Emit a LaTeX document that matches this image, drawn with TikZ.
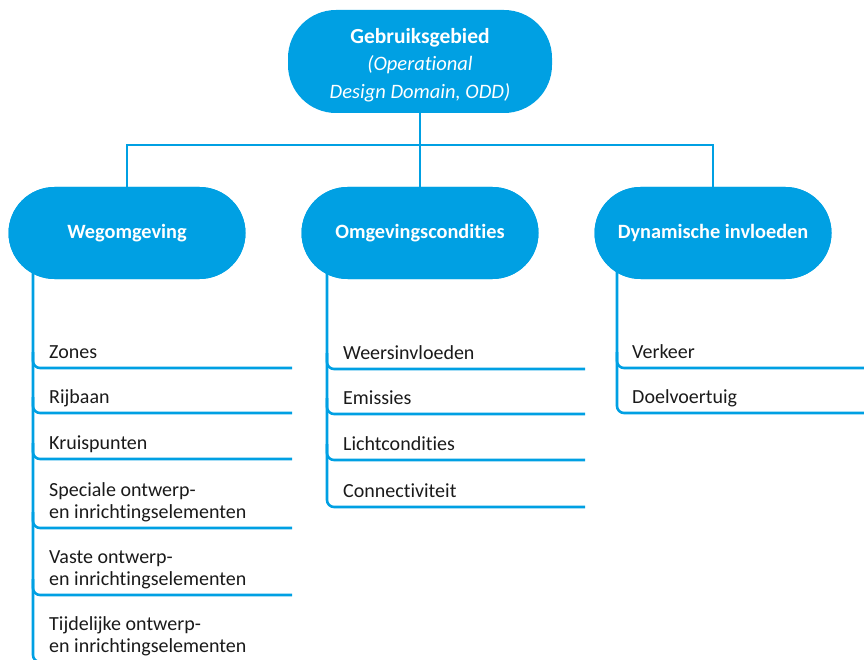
\documentclass[tikz,border=0pt]{standalone}
\usepackage{fontspec}
\setmainfont[Ligatures=NoCommon]{Carlito}
\definecolor{odd}{RGB}{0,160,227}
\definecolor{ink}{RGB}{26,26,26}
\tikzset{
  x=1pt, y=-1pt,
  conn/.style={draw=odd, line width=2.6pt},
  catbox/.style={fill=odd, rounded corners=46pt, minimum width=237pt, minimum height=92pt,
    inner sep=0pt, text=white, font=\fontsize{20.3}{22}\selectfont\bfseries},
  topbox/.style={fill=odd, rounded corners=48pt, minimum width=264pt, minimum height=103pt,
    inner sep=0pt},
  toptext/.style={inner sep=0pt, text=white, align=center, font=\fontsize{20.5}{27.5}\selectfont},
  item/.style={anchor=south west, inner xsep=0pt, inner ysep=9pt, text depth=0pt,
    align=left, text=ink, font=\fontsize{20}{22}\selectfont},
}
\begin{document}
\begin{tikzpicture}
\path[use as bounding box, clip] (0,0) rectangle (864,660);

% main nodes
\node[topbox] (top) at (420,61.5) {};
\node[toptext] (toplabel) at (420,65) {{\fontsize{21.5}{27.5}\selectfont\textbf{Gebruiksgebied}}\\\textit{(Operational}\\\textit{Design Domain, ODD)}};
\node[catbox] (weg) at (127,233) {Wegomgeving};
\node[catbox] (omg) at (420,233) {Omgevingscondities};
\node[catbox] (dyn) at (713,233) {Dynamische invloeden};

% tree connectors
\coordinate (bus) at (420,145);
\draw[conn] (top.south) -- (bus);
\draw[conn] (weg.north) |- (bus) -| (dyn.north);
\draw[conn] (bus) -- (omg.north);

% column guide coordinates
\coordinate (wx) at (33,0);   \coordinate (wend) at (292,0);
\coordinate (ox) at (327,0);  \coordinate (oend) at (585,0);
\coordinate (dx) at (617,0);  \coordinate (dend) at (868,0);

% Wegomgeving items
\node[item] (w1) at (49,368) {Zones};
\node[item] (w2) at (49,413) {Rijbaan};
\node[item] (w3) at (49,459) {Kruispunten};
\node[item] (w4) at (49,528) {Speciale ontwerp-\\en inrichtingselementen};
\node[item] (w5) at (49,595) {Vaste ontwerp-\\en inrichtingselementen};
\node[item] (w6) at (49,662) {Tijdelijke ontwerp-\\en inrichtingselementen};

\draw[conn, rounded corners=7pt] ([yshift=12pt]weg.south -| wx) |- (w6.south -| wend);
\foreach \n in {w1,w2,w3,w4,w5}
  \draw[conn, rounded corners=7pt] ([yshift=16pt]\n.south -| wx) |- (\n.south -| wend);

% Omgevingscondities items
\node[item] (o1) at (343,369) {Weersinvloeden};
\node[item] (o2) at (343,414) {Emissies};
\node[item] (o3) at (343,460) {Lichtcondities};
\node[item] (o4) at (343,507) {Connectiviteit};

\draw[conn, rounded corners=7pt] ([yshift=12pt]omg.south -| ox) |- (o4.south -| oend);
\foreach \n in {o1,o2,o3}
  \draw[conn, rounded corners=7pt] ([yshift=16pt]\n.south -| ox) |- (\n.south -| oend);

% Dynamische invloeden items
\node[item] (d1) at (632,368) {Verkeer};
\node[item] (d2) at (632,413) {Doelvoertuig};

\draw[conn, rounded corners=7pt] ([yshift=12pt]dyn.south -| dx) |- (d2.south -| dend);
\draw[conn, rounded corners=7pt] ([yshift=16pt]d1.south -| dx) |- (d1.south -| dend);

% redraw boxes over line starts
\node[catbox] at (weg) {Wegomgeving};
\node[catbox] at (omg) {Omgevingscondities};
\node[catbox] at (dyn) {Dynamische invloeden};
\end{tikzpicture}
\end{document}
